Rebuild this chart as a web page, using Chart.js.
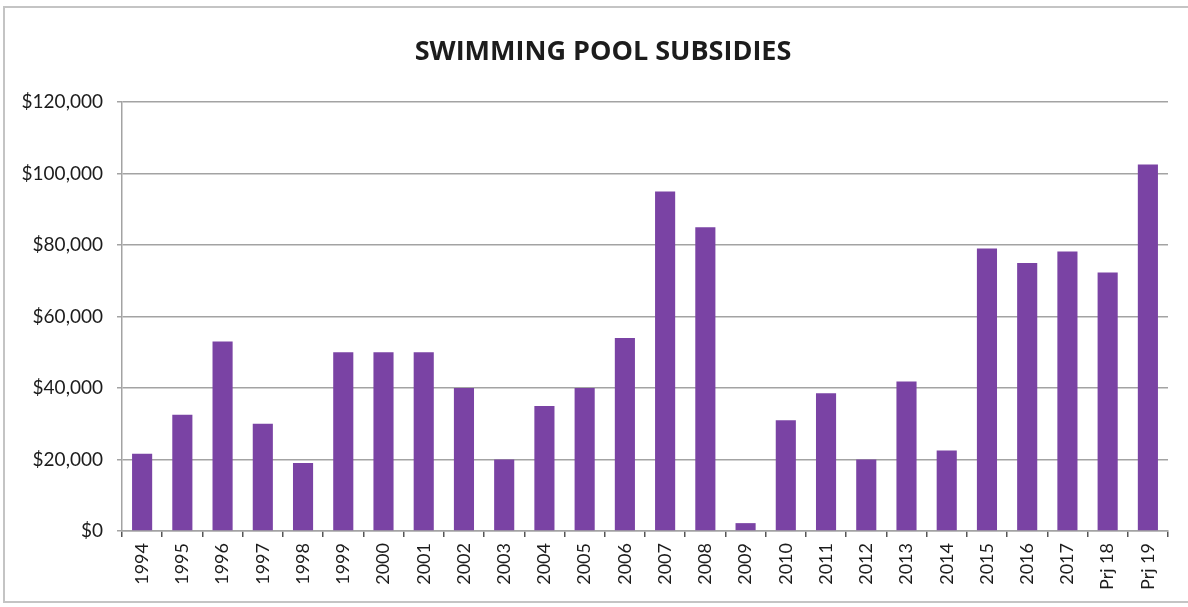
<!DOCTYPE html>
<html>
<head>
<meta charset="utf-8">
<script src="https://cdn.jsdelivr.net/npm/chart.js@4"></script>
<style>
  html, body { margin: 0; padding: 0; background: #fff; overflow: hidden; }
  #wrap { position: relative; width: 1188px; height: 607px; overflow: hidden; }
  #frame {
    position: absolute; left: 3px; top: 6px; width: 1200px; height: 593px;
    border: 2px solid #c4c4c4; pointer-events: none;
  }
  canvas { position: absolute; left: 0; top: 0; }
</style>
</head>
<body>
<div id="wrap">
  <canvas id="subsidies" width="1206" height="607"></canvas>
  <div id="frame"></div>
</div>
<script>
const years = [
  "1994", "1995", "1996", "1997", "1998", "1999", "2000", "2001", "2002",
  "2003", "2004", "2005", "2006", "2007", "2008", "2009", "2010", "2011",
  "2012", "2013", "2014", "2015", "2016", "2017", "Prj 18", "Prj 19",
];
const subsidies = [
  21600, 32500, 53000, 30000, 19000, 50000, 50000, 50000, 40000,
  20000, 35000, 40000, 54000, 95000, 85000, 2200, 31000, 38500,
  20000, 41800, 22500, 79000, 75000, 78200, 72300, 102500,
];
const yTicks = [0, 20000, 40000, 60000, 80000, 100000, 120000];

const barColor = "#7A43A4";
const gridColor = "#a3a3a3";
const textColor = "#1c1c1c";

function formatDollars(value) {
  return "$" + Number(value).toLocaleString("en-US");
}

const chartCanvas = document.getElementById("subsidies");

new Chart(chartCanvas, {
  type: "bar",
  data: {
    labels: years,
    datasets: [
      {
        label: "Subsidies",
        data: subsidies,
        backgroundColor: barColor,
        borderWidth: 0,
        barPercentage: 0.5,
        categoryPercentage: 1,
      },
    ],
  },
  options: {
    responsive: false,
    animation: false,
    layout: {
      padding: 0,
    },
    plugins: {
      legend: { display: false },
      tooltip: { enabled: false },
      title: {
        display: true,
        text: "SWIMMING POOL SUBSIDIES",
        color: textColor,
        font: { family: "'Open Sans'", size: 27, weight: "bold", lineHeight: 1.2 },
        padding: { top: 36, bottom: 33.6 },
      },
    },
    scales: {
      x: {
        afterFit: (scale) => {
          scale.height = 76;
        },
        grid: {
          display: true,
          drawOnChartArea: false,
          offset: true,
          tickLength: 6,
          color: "#555",
          lineWidth: 1.5,
        },
        border: { color: gridColor, width: 1.5 },
        ticks: {
          color: textColor,
          font: { family: "Lato", size: 18 },
          minRotation: 90,
          maxRotation: 90,
          padding: 6,
          autoSkip: false,
        },
      },
      y: {
        min: 0,
        max: 120000,
        afterFit: (scale) => {
          scale.width = 122;
        },
        afterBuildTicks: (scale) => {
          scale.ticks = yTicks.map((v) => ({ value: v }));
        },
        grid: {
          color: gridColor,
          lineWidth: 1.5,
          tickLength: 5,
        },
        border: { color: gridColor, width: 1.5 },
        ticks: {
          color: textColor,
          font: { family: "Lato", size: 19 },
          padding: 14,
          callback: (value) => formatDollars(value),
        },
      },
      // empty right-hand gutter so the plot ends at x = 1168
      gutter: {
        position: "right",
        min: 0,
        max: 1,
        afterFit: (scale) => {
          scale.width = 38;
        },
        grid: { display: false },
        border: { display: false },
        ticks: { display: false },
      },
    },
  },
});
</script>
</body>
</html>
